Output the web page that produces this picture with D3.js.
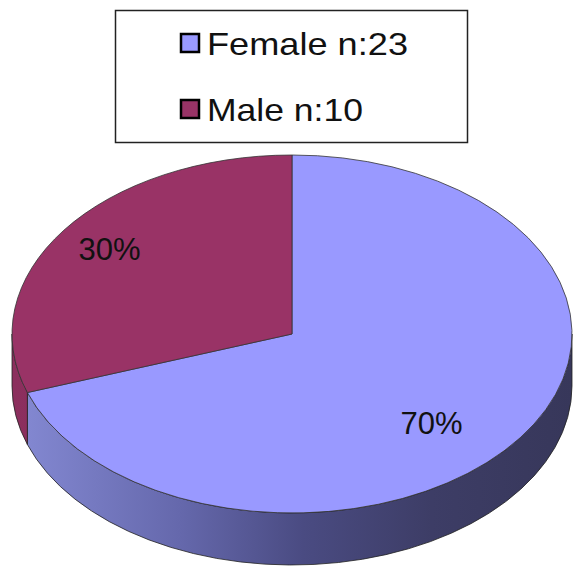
<!DOCTYPE html>
<html>
<head>
<meta charset="utf-8">
<script src="https://d3js.org/d3.v7.min.js"></script>
<style>
  body { margin: 0; background: #fff; }
  text { font-family: "Liberation Sans", Arial, sans-serif; fill: #111; }
</style>
</head>
<body>
<script>
// data
const categories = ['Female', 'Male'];
const counts = [23, 10];
const legendLabels = ['Female n:23', 'Male n:10'];
const pctLabels = ['70%', '30%'];

const width = 573, height = 568;
const cx = 292, cy = 334, rx = 280, ry = 179, depth = 52;

const topColor = d3.scaleOrdinal().domain(categories).range(['#9999ff', '#993366']);

const svg = d3.select('body').append('svg')
  .attr('width', width).attr('height', height);

const defs = svg.append('defs');
// side shading, light on the left, dark on the right
const sideStops = {
  Female: [['0%', '#858ad4'], ['30%', '#6568ac'], ['52%', '#4a4b82'], ['75%', '#3d3d66'], ['100%', '#37375a']],
  Male: [['0%', '#8c2f5e'], ['100%', '#6e2248']]
};
categories.forEach(c => {
  const g = defs.append('linearGradient').attr('id', 'side-' + c)
    .attr('gradientUnits', 'userSpaceOnUse')
    .attr('x1', cx - rx).attr('x2', cx + rx).attr('y1', 0).attr('y2', 0);
  sideStops[c].forEach(s => g.append('stop').attr('offset', s[0]).attr('stop-color', s[1]));
});

const pie = d3.pie().sort(null).value(d => d.count);
const arcs = pie(categories.map((c, i) => ({cat: c, count: counts[i], pct: pctLabels[i]})));

const pt = (a, dy = 0) => [cx + rx * Math.sin(a), cy - ry * Math.cos(a) + dy];

function topPath(d) {
  const p0 = pt(d.startAngle), p1 = pt(d.endAngle);
  const large = d.endAngle - d.startAngle > Math.PI ? 1 : 0;
  return `M${cx},${cy}L${p0}A${rx},${ry} 0 ${large} 1 ${p1}Z`;
}

// front half of the ellipse is visible (angles between PI/2 and 3PI/2)
function sidePath(d) {
  const a0 = Math.max(d.startAngle, Math.PI / 2);
  const a1 = Math.min(d.endAngle, 3 * Math.PI / 2);
  if (a1 <= a0) return null;
  const p0 = pt(a0), p1 = pt(a1), q0 = pt(a0, depth), q1 = pt(a1, depth);
  const large = a1 - a0 > Math.PI ? 1 : 0;
  return `M${p0}A${rx},${ry} 0 ${large} 1 ${p1}L${q1}A${rx},${ry} 0 ${large} 0 ${q0}Z`;
}

const chart = svg.append('g');

chart.selectAll('path.side').data(arcs.filter(d => sidePath(d)))
  .join('path').attr('class', 'side')
  .attr('d', sidePath)
  .attr('fill', d => `url(#side-${d.data.cat})`)
  .attr('stroke', '#222').attr('stroke-width', 0.8).attr('stroke-linejoin', 'round');

chart.selectAll('path.top').data(arcs)
  .join('path').attr('class', 'top')
  .attr('d', topPath)
  .attr('fill', d => topColor(d.data.cat))
  .attr('stroke', '#333').attr('stroke-width', 0.8).attr('stroke-linejoin', 'round');

// percentage labels
const labelNudge = {Female: [-43, 17], Male: [0, 9]};
chart.selectAll('text.pct').data(arcs)
  .join('text').attr('class', 'pct')
  .attr('x', d => pt((d.startAngle + d.endAngle) / 2)[0] * 0.8 + cx * 0.2 + labelNudge[d.data.cat][0])
  .attr('y', d => pt((d.startAngle + d.endAngle) / 2)[1] * 0.8 + cy * 0.2 + labelNudge[d.data.cat][1])
  .attr('text-anchor', 'middle')
  .style('font-size', '31px')
  .text(d => d.data.pct);

// legend
const legend = svg.append('g');
legend.append('rect')
  .attr('x', 115.5).attr('y', 10.5).attr('width', 352).attr('height', 132)
  .attr('fill', '#fff').attr('stroke', '#222').attr('stroke-width', 1.5);

const rows = legend.selectAll('g.item').data(categories)
  .join('g').attr('class', 'item')
  .attr('transform', (d, i) => `translate(181,${34 + i * 66})`);
rows.append('rect')
  .attr('width', 18).attr('height', 18)
  .attr('fill', d => topColor(d))
  .attr('stroke', '#000').attr('stroke-width', 2.5);
rows.append('text')
  .attr('x', 26).attr('y', 21)
  .style('font-size', '32px')
  .attr('textLength', (d, i) => i === 0 ? 201 : 156)
  .attr('lengthAdjust', 'spacingAndGlyphs')
  .text((d, i) => legendLabels[i]);
</script>
</body>
</html>
